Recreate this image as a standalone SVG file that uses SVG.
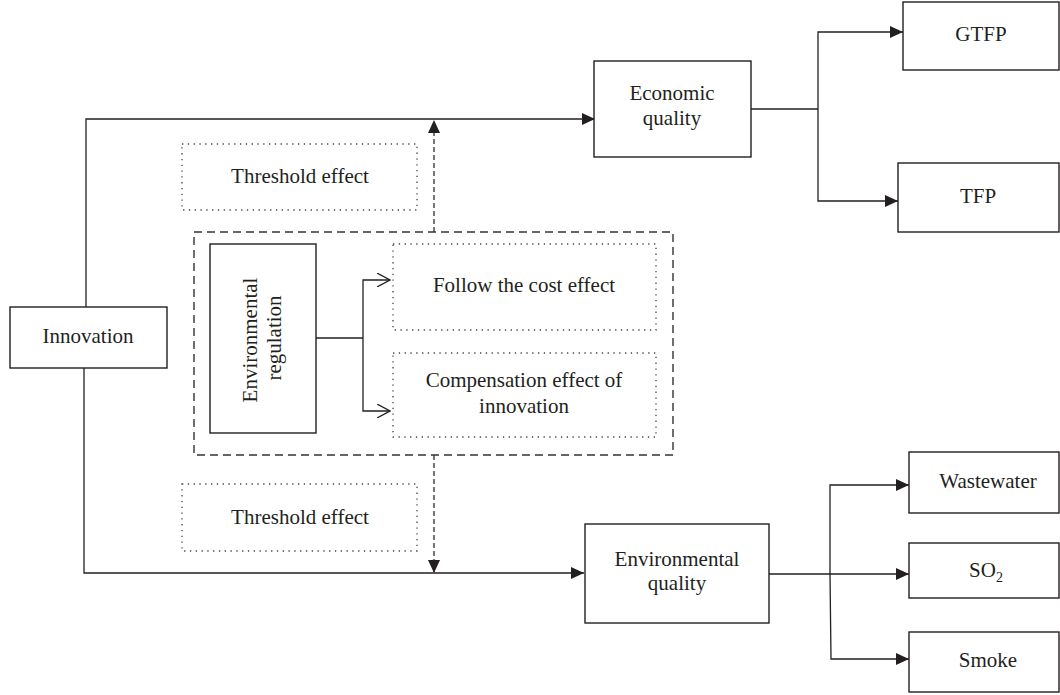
<svg xmlns="http://www.w3.org/2000/svg" width="1060" height="695" viewBox="0 0 1060 695">
<style>
text{font-family:"Liberation Serif","Times New Roman",serif;font-size:21px;fill:#231f20;text-anchor:middle}
.box{fill:#fff;stroke:#231f20;stroke-width:1.4}
.dot{fill:none;stroke:#444;stroke-width:1.3;stroke-dasharray:1.3 4.5}
.dash{fill:none;stroke:#333;stroke-width:1.4;stroke-dasharray:8 5}
.ln{fill:none;stroke:#231f20;stroke-width:1.3}
.vd{fill:none;stroke:#555;stroke-width:1.6;stroke-dasharray:5 3}
</style>
<defs>
<marker id="ah" viewBox="0 0 13 12" refX="13" refY="6" markerWidth="13" markerHeight="12" markerUnits="userSpaceOnUse" orient="auto">
<path d="M0,0 L13,6 L0,12 Z" fill="#231f20"/>
</marker>
<marker id="oa" viewBox="0 0 14 14" refX="13" refY="7" markerWidth="14" markerHeight="14" markerUnits="userSpaceOnUse" orient="auto">
<path d="M0,0 L13,7 L0,14" fill="none" stroke="#231f20" stroke-width="1.3"/>
</marker>
</defs>
<g id="connectors">
<polyline class="ln" points="86,307 86,119 595,119" marker-end="url(#ah)"/>
<polyline class="ln" points="84,368 84,573 584,573" marker-end="url(#ah)"/>
<line class="vd" x1="434" y1="232" x2="434" y2="120" marker-end="url(#ah)"/>
<line class="vd" x1="434" y1="455" x2="434" y2="573" marker-end="url(#ah)"/>
<polyline class="ln" points="751,109 818,109"/>
<polyline class="ln" points="818,109 818,32 903,32" marker-end="url(#ah)"/>
<polyline class="ln" points="818,109 818,201 898,201" marker-end="url(#ah)"/>
<line class="ln" x1="769" y1="574" x2="909" y2="574" marker-end="url(#ah)"/>
<polyline class="ln" points="830,574 830,485 909,485" marker-end="url(#ah)"/>
<polyline class="ln" points="830,574 831,659 909,659" marker-end="url(#ah)"/>
<polyline class="ln" points="316,338 363,338"/>
<polyline class="ln" points="363,338 363,280 390,280" marker-end="url(#oa)"/>
<polyline class="ln" points="363,338 363,411 390,411" marker-end="url(#oa)"/>
</g>
<g id="innovation"><rect class="box" x="10" y="307" width="157" height="61"/><text x="88" y="343">Innovation</text></g>
<g id="threshold-top"><rect class="dot" x="182" y="144" width="235" height="66"/><text x="300" y="183">Threshold effect</text></g>
<g id="threshold-bottom"><rect class="dot" x="182" y="484" width="235" height="67"/><text x="300" y="524">Threshold effect</text></g>
<g id="regulation-group"><rect class="dash" x="194" y="232" width="479" height="223"/></g>
<g id="env-regulation"><rect class="box" x="210" y="244" width="106" height="189"/>
<text transform="rotate(-90 257 340)" x="257" y="340">Environmental</text>
<text transform="rotate(-90 281 338)" x="281" y="338">regulation</text></g>
<g id="follow-cost"><rect class="dot" x="393" y="244" width="263" height="86"/><text x="524" y="292">Follow the cost effect</text></g>
<g id="compensation"><rect class="dot" x="393" y="353" width="263" height="84"/><text x="524" y="387">Compensation effect of</text><text x="524" y="413">innovation</text></g>
<g id="economic-quality"><rect class="box" x="594" y="61" width="157" height="96"/><text x="672" y="100">Economic</text><text x="672" y="125">quality</text></g>
<g id="gtfp"><rect class="box" x="903" y="2" width="156" height="68"/><text x="981" y="41">GTFP</text></g>
<g id="tfp"><rect class="box" x="898" y="163" width="161" height="69"/><text x="978" y="203">TFP</text></g>
<g id="environmental-quality"><rect class="box" x="585" y="524" width="184" height="99"/><text x="677" y="566">Environmental</text><text x="677" y="590">quality</text></g>
<g id="wastewater"><rect class="box" x="909" y="452" width="150" height="61"/><text x="988" y="488">Wastewater</text></g>
<g id="so2"><rect class="box" x="909" y="543" width="150" height="55"/><text x="986" y="577">SO<tspan font-size="14" dy="5">2</tspan></text></g>
<g id="smoke"><rect class="box" x="909" y="632" width="150" height="60"/><text x="988" y="667">Smoke</text></g>
</svg>
